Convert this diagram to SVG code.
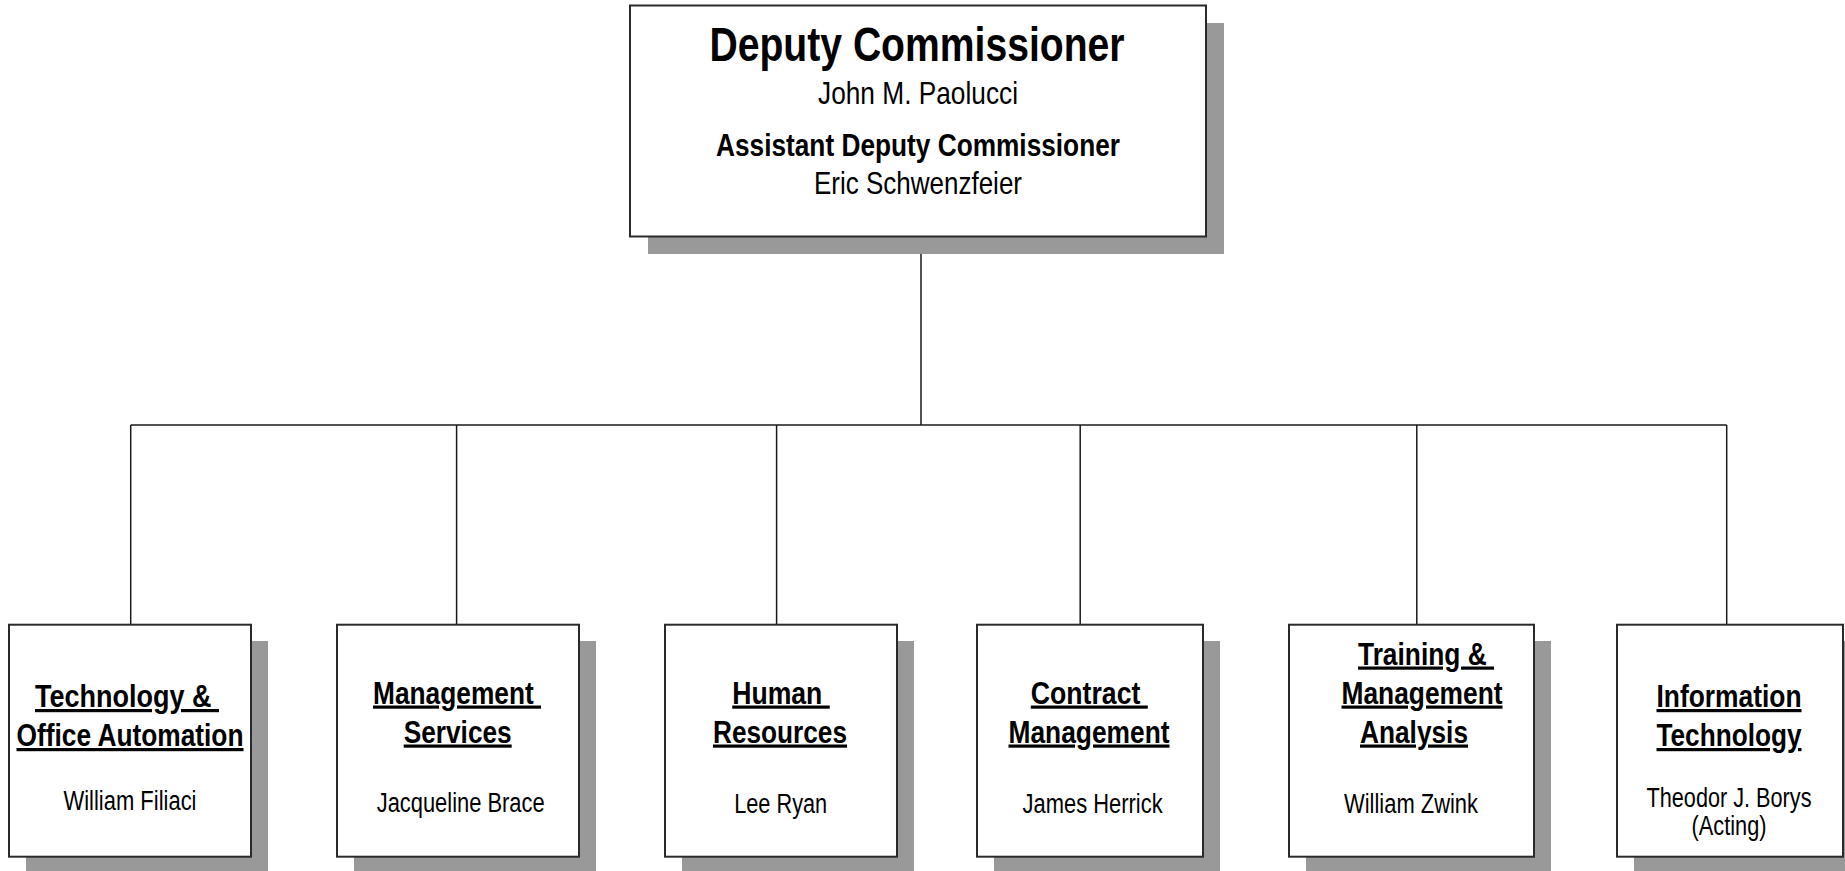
<svg xmlns="http://www.w3.org/2000/svg" width="1845" height="871" viewBox="0 0 1845 871">
<style>
.shadow{fill:#999999;stroke:none}
.box{fill:#ffffff;stroke:#2a2a2a;stroke-width:2}
.conn{stroke:#1a1a1a;stroke-width:1.5;fill:none}
text{font-family:"Liberation Sans",Arial,sans-serif;fill:#000;text-anchor:middle}
.t1{font-size:48px;font-weight:bold}
.n1{font-size:32px}
.t2{font-size:32px;font-weight:bold}
.dt{font-size:32px;font-weight:bold;text-decoration:underline}
.nm{font-size:27px}
</style>
<rect width="1845" height="871" fill="#ffffff"/>
<g id="connectors">
<line class="conn" x1="921" y1="236" x2="921" y2="425"/>
<line class="conn" x1="130.7" y1="425" x2="1726.7" y2="425"/>
<line class="conn" x1="130.7" y1="425" x2="130.7" y2="625"/>
<line class="conn" x1="456.6" y1="425" x2="456.6" y2="625"/>
<line class="conn" x1="776.6" y1="425" x2="776.6" y2="625"/>
<line class="conn" x1="1080.2" y1="425" x2="1080.2" y2="625"/>
<line class="conn" x1="1416.8" y1="425" x2="1416.8" y2="625"/>
<line class="conn" x1="1726.7" y1="425" x2="1726.7" y2="625"/>
</g>
<g id="deputy-commissioner">
<rect class="shadow" x="648" y="23" width="576" height="231"/>
<rect class="box" x="630" y="5.5" width="576" height="231"/>
<text class="t1" x="917" y="61" textLength="415" lengthAdjust="spacingAndGlyphs">Deputy Commissioner</text>
<text class="n1" x="918" y="103.5" textLength="200" lengthAdjust="spacingAndGlyphs">John M. Paolucci</text>
<text class="t2" x="918" y="156" textLength="404" lengthAdjust="spacingAndGlyphs">Assistant Deputy Commissioner</text>
<text class="n1" x="918" y="194" textLength="208" lengthAdjust="spacingAndGlyphs">Eric Schwenzfeier</text>
</g>
<g id="tech-office-automation">
<rect class="shadow" x="26" y="641" width="242" height="232"/>
<rect class="box" x="9" y="624.7" width="242" height="232"/>
<text class="dt" x="127" y="707" xml:space="preserve" textLength="184" lengthAdjust="spacingAndGlyphs">Technology &amp; </text>
<text class="dt" x="130" y="746" textLength="227" lengthAdjust="spacingAndGlyphs">Office Automation</text>
<text class="nm" x="130" y="810" textLength="133" lengthAdjust="spacingAndGlyphs">William Filiaci</text>
</g>
<g id="management-services">
<rect class="shadow" x="354" y="641" width="242" height="232"/>
<rect class="box" x="337" y="624.7" width="242" height="232"/>
<text class="dt" x="457" y="703.5" xml:space="preserve" textLength="168" lengthAdjust="spacingAndGlyphs">Management </text>
<text class="dt" x="457.7" y="742.5" textLength="108" lengthAdjust="spacingAndGlyphs">Services</text>
<text class="nm" x="460.7" y="812" textLength="168" lengthAdjust="spacingAndGlyphs">Jacqueline Brace</text>
</g>
<g id="human-resources">
<rect class="shadow" x="682" y="641" width="232" height="232"/>
<rect class="box" x="665" y="624.7" width="232" height="232"/>
<text class="dt" x="781" y="703.5" xml:space="preserve" textLength="97.5" lengthAdjust="spacingAndGlyphs">Human </text>
<text class="dt" x="780" y="742.5" textLength="134" lengthAdjust="spacingAndGlyphs">Resources</text>
<text class="nm" x="780.7" y="813" textLength="93" lengthAdjust="spacingAndGlyphs">Lee Ryan</text>
</g>
<g id="contract-management">
<rect class="shadow" x="994" y="641" width="226" height="232"/>
<rect class="box" x="977" y="624.7" width="226" height="232"/>
<text class="dt" x="1089.3" y="703.5" xml:space="preserve" textLength="117" lengthAdjust="spacingAndGlyphs">Contract </text>
<text class="dt" x="1089" y="742.5" textLength="161" lengthAdjust="spacingAndGlyphs">Management</text>
<text class="nm" x="1092.6" y="813" textLength="140" lengthAdjust="spacingAndGlyphs">James Herrick</text>
</g>
<g id="training-management-analysis">
<rect class="shadow" x="1306" y="641" width="245" height="232"/>
<rect class="box" x="1289" y="624.7" width="245" height="232"/>
<text class="dt" x="1426" y="664.5" xml:space="preserve" textLength="136" lengthAdjust="spacingAndGlyphs">Training &amp; </text>
<text class="dt" x="1422" y="703.5" textLength="161" lengthAdjust="spacingAndGlyphs">Management</text>
<text class="dt" x="1414" y="742.5" textLength="108" lengthAdjust="spacingAndGlyphs">Analysis</text>
<text class="nm" x="1411" y="813" textLength="134" lengthAdjust="spacingAndGlyphs">William Zwink</text>
</g>
<g id="information-technology">
<rect class="shadow" x="1634" y="641" width="211" height="232"/>
<rect class="box" x="1617" y="624.7" width="226" height="232"/>
<text class="dt" x="1729" y="707" textLength="145" lengthAdjust="spacingAndGlyphs">Information</text>
<text class="dt" x="1729" y="746" textLength="145" lengthAdjust="spacingAndGlyphs">Technology</text>
<text class="nm" x="1729" y="807" textLength="165" lengthAdjust="spacingAndGlyphs">Theodor J. Borys</text>
<text class="nm" x="1729" y="835" textLength="75" lengthAdjust="spacingAndGlyphs">(Acting)</text>
</g>
</svg>
